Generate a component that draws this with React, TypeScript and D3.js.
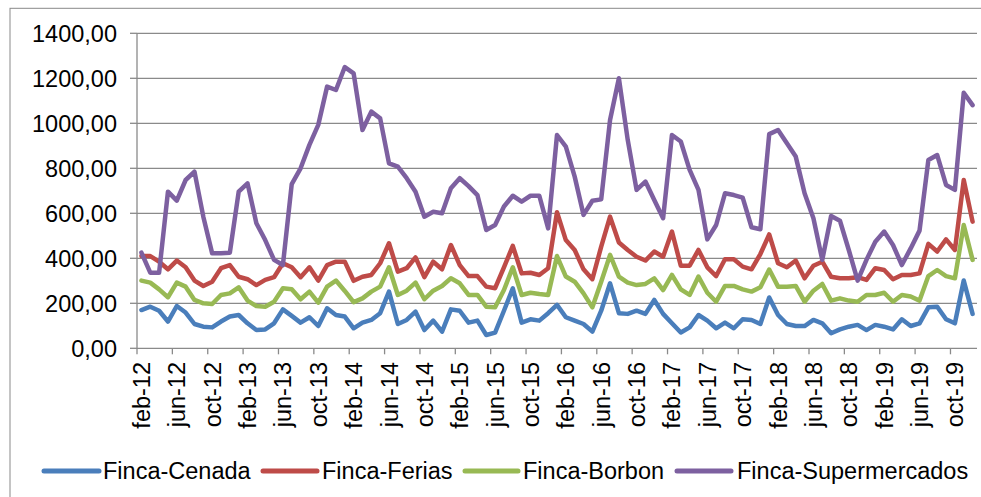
import React from "react";
import * as d3 from "d3";

const monthNames = ["ene", "feb", "mar", "abr", "may", "jun", "jul", "ago", "sep", "oct", "nov", "dic"];
const startYear = 2012;
const startMonth = 1; // feb
const nMonths = 95;
const categories: string[] = Array.from({ length: nMonths }, (_, i) => {
  const m = (startMonth + i) % 12;
  const y = startYear + Math.floor((startMonth + i) / 12);
  return `${monthNames[m]}-${String(y).slice(2)}`;
});

const cenada = [170,185,167,119,188,159,108,96,93,119,141,148,111,81,84,111,173,144,114,138,99,178,148,141,
  89,114,126,156,252,108,126,163,81,123,74,173,167,114,123,59,70,167,267,114,129,123,156,193,
  138,123,108,74,167,289,156,153,167,153,215,153,111,70,93,148,123,89,114,89,129,126,108,226,
  148,108,99,99,126,111,67,84,96,104,81,104,96,84,129,99,111,182,185,129,111,301,153];

const ferias = [410,410,385,351,390,360,301,277,296,356,370,318,307,281,304,316,378,360,316,360,301,370,385,385,
  300,318,326,378,467,341,356,404,316,385,351,459,370,321,321,274,267,360,455,333,336,326,356,605,
  481,437,351,307,452,585,470,437,407,390,430,407,519,367,367,437,360,321,396,396,363,351,419,506,
  378,360,390,311,367,385,318,311,311,316,304,356,348,307,326,326,333,464,430,484,437,748,563];

const borbon = [301,292,262,227,292,274,215,200,197,237,244,271,212,188,185,207,267,262,218,252,203,274,301,255,
  205,222,252,274,360,237,256,292,218,256,277,311,289,237,237,185,182,259,360,237,247,241,237,410,
  319,296,244,182,296,415,319,292,281,286,311,259,326,262,237,319,247,207,277,277,262,252,271,350,
  274,274,277,207,256,286,212,222,212,207,237,237,247,207,237,230,212,321,348,321,311,548,393];

const supermercados = [425,336,336,696,656,748,785,585,422,422,425,696,733,556,481,393,370,730,800,904,993,1163,1148,1250,
  1222,970,1052,1022,822,807,756,696,585,607,600,711,756,721,681,526,548,630,678,652,678,678,533,948,
  896,763,593,656,662,1015,1200,926,704,741,659,578,948,919,793,704,484,548,689,681,670,538,529,952,
  970,911,852,689,578,393,588,567,437,301,393,474,519,459,370,444,523,837,859,726,704,1136,1081];

const seriesNames = ["Finca-Cenada", "Finca-Ferias", "Finca-Borbon", "Finca-Supermercados"];
const seriesColors = ["#4A7EBB", "#BE4B48", "#98B954", "#7D60A0"];
const seriesData = [cenada, ferias, borbon, supermercados];
const yTicks = [0, 200, 400, 600, 800, 1000, 1200, 1400];

const W = 981, H = 497;
const left = 137, right = 977, top = 33.3, bottom = 348.3;
const FONT = "'Liberation Sans', Arial, sans-serif";

export default function App() {
  const x = d3.scaleBand<string>().domain(categories).range([left, right]).paddingInner(0).paddingOuter(0);
  const bw = x.bandwidth();
  const cx = (i: number) => (x(categories[i]) as number) + bw / 2;
  const y = d3.scaleLinear().domain([0, 1400]).range([bottom, top]);
  const fmt = (v: number) => d3.format(".2f")(v).replace(".", ",");
  const line = d3.line<number>().x((_, i) => cx(i)).y((d) => y(d));
  const tickIdx = categories.map((_, i) => i).filter((i) => i % 4 === 0);

  const legendItems = [
    { x1: 44, x2: 99, tx: 103 },
    { x1: 263, x2: 317, tx: 322 },
    { x1: 465, x2: 518, tx: 523 },
    { x1: 677, x2: 731, tx: 737 },
  ];

  return (
    <div style={{ position: "absolute", left: 0, top: 0 }}>
      <svg width={W} height={H} style={{ display: "block", background: "#fff" }}>
        <rect x={10} y={8.3} width={1000} height={600} fill="#fff" stroke="#898989" strokeWidth={1} />
        {yTicks.map((t) => (
          <g key={t}>
            {t > 0 && <line x1={left} x2={right} y1={y(t)} y2={y(t)} stroke="#8a8a8a" strokeWidth={1.3} />}
            <line x1={130} x2={left} y1={y(t)} y2={y(t)} stroke="#8a8a8a" strokeWidth={1.3} />
            <text x={117} y={y(t) + 8.4} textAnchor="end" fontFamily={FONT} fontSize={23.5} fill="#000">
              {fmt(t)}
            </text>
          </g>
        ))}
        <line x1={left} x2={left} y1={top} y2={bottom} stroke="#8a8a8a" strokeWidth={1.3} />
        <line x1={left} x2={right} y1={bottom} y2={bottom} stroke="#8a8a8a" strokeWidth={1.3} />
        {tickIdx.map((i) => {
          const bx = x(categories[i]) as number;
          return (
            <g key={i}>
              <line x1={bx} x2={bx} y1={bottom} y2={bottom + 6} stroke="#8a8a8a" strokeWidth={1.3} />
              <text
                transform={`translate(${cx(i)},${362}) rotate(-90)`}
                x={0}
                y={8.5}
                textAnchor="end"
                fontFamily={FONT}
                fontSize={23.5}
                fill="#000"
              >
                {categories[i]}
              </text>
            </g>
          );
        })}
        {seriesData.map((s, k) => (
          <path
            key={k}
            d={line(s) || ""}
            fill="none"
            stroke={seriesColors[k]}
            strokeWidth={4.5}
            strokeLinejoin="round"
            strokeLinecap="round"
          />
        ))}
        {legendItems.map((l, k) => (
          <g key={k}>
            <line x1={l.x1} x2={l.x2} y1={471} y2={471} stroke={seriesColors[k]} strokeWidth={5} strokeLinecap="round" />
            <text x={l.tx} y={478.5} fontFamily={FONT} fontSize={23.5} fill="#000">
              {seriesNames[k]}
            </text>
          </g>
        ))}
      </svg>
    </div>
  );
}
